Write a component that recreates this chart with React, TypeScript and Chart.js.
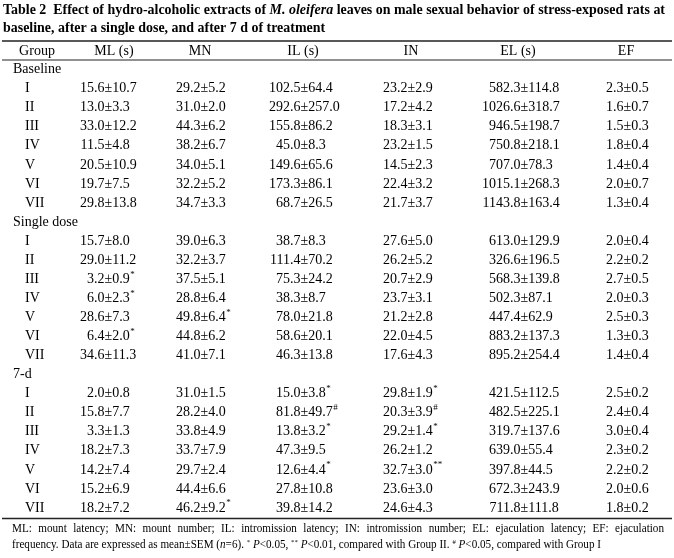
import React, { useEffect, useRef } from "react";
import { Chart, registerables } from "chart.js";

Chart.register(...registerables);

// ---------- data ----------
const COLUMNS = ["Group", "ML (s)", "MN", "IL (s)", "IN", "EL (s)", "EF"];
const SECTIONS = ["Baseline", "Single dose", "7-d"];
const GROUPS = ["I", "II", "III", "IV", "V", "VI", "VII"];

const ML = [
  "15.6±10.7", "13.0±3.3", "33.0±12.2", "11.5±4.8", "20.5±10.9", "19.7±7.5", "29.8±13.8",
  "15.7±8.0", "29.0±11.2", "3.2±0.9*", "6.0±2.3*", "28.6±7.3", "6.4±2.0*", "34.6±11.3",
  "2.0±0.8", "15.8±7.7", "3.3±1.3", "18.2±7.3", "14.2±7.4", "15.2±6.9", "18.2±7.2",
];
const MN = [
  "29.2±5.2", "31.0±2.0", "44.3±6.2", "38.2±6.7", "34.0±5.1", "32.2±5.2", "34.7±3.3",
  "39.0±6.3", "32.2±3.7", "37.5±5.1", "28.8±6.4", "49.8±6.4*", "44.8±6.2", "41.0±7.1",
  "31.0±1.5", "28.2±4.0", "33.8±4.9", "33.7±7.9", "29.7±2.4", "44.4±6.6", "46.2±9.2*",
];
const IL = [
  "102.5±64.4", "292.6±257.0", "155.8±86.2", "45.0±8.3", "149.6±65.6", "173.3±86.1", "68.7±26.5",
  "38.7±8.3", "111.4±70.2", "75.3±24.2", "38.3±8.7", "78.0±21.8", "58.6±20.1", "46.3±13.8",
  "15.0±3.8*", "81.8±49.7#", "13.8±3.2*", "47.3±9.5", "12.6±4.4*", "27.8±10.8", "39.8±14.2",
];
const IN = [
  "23.2±2.9", "17.2±4.2", "18.3±3.1", "23.2±1.5", "14.5±2.3", "22.4±3.2", "21.7±3.7",
  "27.6±5.0", "26.2±5.2", "20.7±2.9", "23.7±3.1", "21.2±2.8", "22.0±4.5", "17.6±4.3",
  "29.8±1.9*", "20.3±3.9#", "29.2±1.4*", "26.2±1.2", "32.7±3.0**", "23.6±3.0", "24.6±4.3",
];
const EL = [
  "582.3±114.8", "1026.6±318.7", "946.5±198.7", "750.8±218.1", "707.0±78.3", "1015.1±268.3", "1143.8±163.4",
  "613.0±129.9", "326.6±196.5", "568.3±139.8", "502.3±87.1", "447.4±62.9", "883.2±137.3", "895.2±254.4",
  "421.5±112.5", "482.5±225.1", "319.7±137.6", "639.0±55.4", "397.8±44.5", "672.3±243.9", "711.8±111.8",
];
const EF = [
  "2.3±0.5", "1.6±0.7", "1.5±0.3", "1.8±0.4", "1.4±0.4", "2.0±0.7", "1.3±0.4",
  "2.0±0.4", "2.2±0.2", "2.7±0.5", "2.0±0.3", "2.5±0.3", "1.3±0.3", "1.4±0.4",
  "2.5±0.2", "2.4±0.4", "3.0±0.4", "2.3±0.2", "2.2±0.2", "2.0±0.6", "1.8±0.2",
];
const DATA_COLUMNS = [ML, MN, IL, IN, EL, EF];

type Run = { t: string; i?: boolean; sup?: boolean };

const TITLE_LINE_1: Run[] = [
  { t: "Table 2  Effect of hydro-alcoholic extracts of " },
  { t: "M. oleifera", i: true },
  { t: " leaves on male sexual behavior of stress-exposed rats at" },
];
const TITLE_LINE_2: Run[] = [{ t: "baseline, after a single dose, and after 7 d of treatment" }];

const NOTE_LINE_1: Run[] = [
  { t: "ML: mount latency; MN: mount number; IL: intromission latency; IN: intromission number; EL: ejaculation latency; EF: ejaculation" },
];
const NOTE_LINE_2: Run[] = [
  { t: "frequency. Data are expressed as mean±SEM (" },
  { t: "n", i: true },
  { t: "=6). " },
  { t: "*", sup: true },
  { t: " " },
  { t: "P", i: true },
  { t: "<0.05, " },
  { t: "**", sup: true },
  { t: " " },
  { t: "P", i: true },
  { t: "<0.01, compared with Group II. " },
  { t: "#", sup: true },
  { t: " " },
  { t: "P", i: true },
  { t: "<0.05, compared with Group I" },
];

// ---------- layout ----------
const W = 674;
const H = 558;
const FONT = '"Liberation Serif", "Times New Roman", serif';
const HEADER_CENTERS = [37, 114, 200, 303, 411, 518, 626];
const DECIMAL_ANCHORS = [104.5, 200.5, 300.5, 407.5, 520.5, 623.5];
const SECTION_X = 13;
const GROUP_X = 25;
const RULE_LEFT = 2;
const RULE_RIGHT = 672;
const TOP_RULE_Y = 41;
const HEADER_Y = 51;
const TITLE_X = 3;
const TITLE_Y = [9, 27];
const TITLE_WIDTH = 662;
const NOTE_X = 12;
const NOTE_Y = [528, 544];
const NOTE_SIZE = 11.5;
const NOTE_WIDTH = 652;
const NOTE_LINE2_WIDTH = 589;

// row labels for the category y-scale
const ROWS: string[] = [];
SECTIONS.forEach((s) => {
  ROWS.push(s);
  GROUPS.forEach((g) => ROWS.push(s + "|" + g));
});

function fontFor(r: Run, size: number, bold: boolean) {
  const sz = r.sup ? Math.round(size * 0.65) : size;
  return `${r.i ? "italic " : ""}${bold ? "bold " : ""}${sz}px ${FONT}`;
}

function runsWidth(ctx: CanvasRenderingContext2D, runs: Run[], size: number, bold: boolean) {
  let w = 0;
  for (const r of runs) {
    ctx.font = fontFor(r, size, bold);
    w += ctx.measureText(r.t).width;
  }
  return w;
}

function countSpaces(runs: Run[]) {
  return runs.reduce((n, r) => n + (r.sup ? 0 : (r.t.match(/ /g) || []).length), 0);
}

function drawRuns(
  ctx: CanvasRenderingContext2D,
  runs: Run[],
  x: number,
  y: number,
  size: number,
  bold: boolean,
  extra = 0
) {
  let cx = x;
  ctx.textAlign = "left";
  ctx.textBaseline = "alphabetic";
  for (const r of runs) {
    ctx.font = fontFor(r, size, bold);
    const yy = r.sup ? y - size * 0.38 : y;
    if (!extra) {
      ctx.fillText(r.t, cx, yy);
      cx += ctx.measureText(r.t).width;
    } else {
      const parts = r.t.split(" ");
      parts.forEach((p, k) => {
        if (p) {
          ctx.fillText(p, cx, yy);
          cx += ctx.measureText(p).width;
        }
        if (k < parts.length - 1) cx += ctx.measureText(" ").width + extra;
      });
    }
  }
}

const tablePlugin = {
  id: "tableText",
  afterDraw(chart: any) {
    const ctx: CanvasRenderingContext2D = chart.ctx;
    const xs = chart.scales.x;
    const ys = chart.scales.y;
    const area = chart.chartArea;
    ctx.save();
    ctx.fillStyle = "#000";

    // title
    const tw = runsWidth(ctx, TITLE_LINE_1, 15, true);
    const sx = TITLE_WIDTH / tw;
    [TITLE_LINE_1, TITLE_LINE_2].forEach((line, k) => {
      ctx.save();
      ctx.translate(TITLE_X, TITLE_Y[k] + 5);
      ctx.scale(sx, 1);
      drawRuns(ctx, line, 0, 0, 15, true);
      ctx.restore();
    });

    // rules
    ctx.strokeStyle = "#222";
    const rule = (y: number, lw: number) => {
      ctx.lineWidth = lw;
      ctx.beginPath();
      ctx.moveTo(RULE_LEFT, y);
      ctx.lineTo(RULE_RIGHT, y);
      ctx.stroke();
    };
    rule(TOP_RULE_Y, 1.4);
    rule(area.top, 1);
    rule(area.bottom + 1, 1.4);

    // header
    ctx.font = `14px ${FONT}`;
    ctx.textAlign = "center";
    ctx.textBaseline = "middle";
    COLUMNS.forEach((c, i) => {
      ctx.fillText(c, xs.getPixelForValue(HEADER_CENTERS[i]), HEADER_Y);
    });

    // body
    let dataRow = 0;
    ROWS.forEach((row, ri) => {
      const y = ys.getPixelForValue(ri);
      ctx.font = `14px ${FONT}`;
      ctx.textBaseline = "middle";
      if (!row.includes("|")) {
        ctx.textAlign = "left";
        ctx.fillText(row, xs.getPixelForValue(SECTION_X), y);
        return;
      }
      ctx.textAlign = "left";
      ctx.fillText(row.split("|")[1], xs.getPixelForValue(GROUP_X), y);
      DATA_COLUMNS.forEach((col, ci) => {
        const m = col[dataRow].match(/^([\d.]+)±([\d.]+)([*#]*)$/);
        if (!m) return;
        const ax = xs.getPixelForValue(DECIMAL_ANCHORS[ci]);
        ctx.font = `14px ${FONT}`;
        ctx.textAlign = "right";
        ctx.fillText(m[1], ax, y);
        ctx.textAlign = "left";
        const rest = "±" + m[2];
        ctx.fillText(rest, ax, y);
        if (m[3]) {
          const w = ctx.measureText(rest).width;
          ctx.font = `9px ${FONT}`;
          ctx.fillText(m[3], ax + w + 0.5, y - 5);
        }
      });
      dataRow++;
    });

    // footnote (first line justified)
    const n2 = runsWidth(ctx, NOTE_LINE_2, NOTE_SIZE, false);
    const fx = Math.min(1, NOTE_LINE2_WIDTH / n2);
    const nw = runsWidth(ctx, NOTE_LINE_1, NOTE_SIZE, false);
    const extra = Math.max(0, (NOTE_WIDTH / fx - nw) / countSpaces(NOTE_LINE_1));
    ctx.save();
    ctx.translate(NOTE_X, NOTE_Y[0] + 4);
    ctx.scale(fx, 1);
    drawRuns(ctx, NOTE_LINE_1, 0, 0, NOTE_SIZE, false, extra);
    ctx.restore();
    ctx.save();
    ctx.translate(NOTE_X, NOTE_Y[1] + 4);
    ctx.scale(fx, 1);
    drawRuns(ctx, NOTE_LINE_2, 0, 0, NOTE_SIZE, false);
    ctx.restore();

    ctx.restore();
  },
};

export default function App() {
  const ref = useRef<HTMLCanvasElement | null>(null);
  useEffect(() => {
    document.body.style.margin = "0";
    const canvas = ref.current;
    if (!canvas) return;
    const chart = new Chart(canvas, {
      type: "scatter",
      data: { datasets: [] },
      options: {
        animation: false,
        responsive: false,
        devicePixelRatio: 1,
        layout: { padding: { top: 60, bottom: 40.5, left: 0, right: 0 } },
        plugins: { legend: { display: false }, tooltip: { enabled: false } },
        scales: {
          x: { type: "linear", min: 0, max: W, display: false },
          y: { type: "category", labels: ROWS, offset: true, display: false },
        },
      },
      plugins: [tablePlugin],
    });
    return () => chart.destroy();
  }, []);
  return (
    <div style={{ width: W, height: H, background: "#fff" }}>
      <canvas ref={ref} width={W} height={H} style={{ display: "block" }} />
    </div>
  );
}
